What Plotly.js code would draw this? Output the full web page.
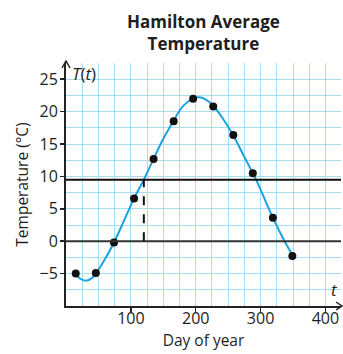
<!DOCTYPE html>
<html>
<head>
<meta charset="utf-8">
<script src="https://cdn.plot.ly/plotly-3.0.1.min.js"></script>
<style>html,body{margin:0;padding:0;background:#fff;}#chart{width:343px;height:354px;}</style>
</head>
<body>
<div id="chart"></div>
<script>
// Monthly mean temperatures (mid-month day of year)
var days = [15, 46, 74, 105, 135, 166, 196, 227, 258, 288, 319, 349];
var temps = [-5.0, -4.9, -0.2, 6.6, 12.7, 18.5, 22.0, 20.8, 16.4, 10.5, 3.6, -2.3];

// Curve of best fit
var fitDays = [15, 22, 31, 40, 46, 60, 74, 90, 105, 120, 135, 150, 166, 180, 196, 205, 215, 227, 240, 258, 275, 293, 320, 337, 350];
var fitTemps = [-5.0, -5.8, -6.1, -5.7, -5.0, -2.8, -0.2, 3.3, 6.6, 9.5, 12.7, 15.8, 18.6, 20.8, 22.0, 22.2, 21.9, 20.9, 19.2, 16.3, 13.0, 9.5, 3.4, 0.0, -2.3];

// Reference lines
var thresholdTemp = 9.5;
var crossingDay = 120;

var xTicks = [100, 200, 300, 400];
var yTicks = [-5, 0, 5, 10, 15, 20, 25];

var titleText = '<b>Hamilton Average<br>Temperature</b>';

var gridCol = '#a9dcf2';
var font = 'Open Sans, Noto Sans, sans-serif';
var txtCol = '#1e1e1e';

var traces = [
  {x: fitDays, y: fitTemps, mode: 'lines', type: 'scatter',
   line: {color: '#1ba3df', width: 2, shape: 'spline', smoothing: 1}, hoverinfo: 'skip'},
  {x: days, y: temps, mode: 'markers', type: 'scatter',
   marker: {color: '#111', size: 8}}
];

var layout = {
  width: 343, height: 354,
  margin: {l: 66, r: 2, t: 63, b: 48},
  showlegend: false,
  paper_bgcolor: '#fff', plot_bgcolor: '#fff',
  font: {family: font, size: 15, color: txtCol},
  xaxis: {
    range: [0, 424], tickmode: 'array', tickvals: xTicks,
    showgrid: true, gridcolor: gridCol, gridwidth: 1,
    minor: {tickmode: 'linear', tick0: 0, dtick: 25, showgrid: true, gridcolor: gridCol, gridwidth: 1},
    showline: true, linecolor: '#222', linewidth: 2,
    ticks: 'outside', ticklen: 4, tickwidth: 1.5, tickcolor: '#222',
    ticklabelstandoff: -7,
    zeroline: false,
    tickfont: {family: font, size: 16, color: txtCol},
    title: {text: 'Day of year', font: {family: font, size: 15.5, color: txtCol}, standoff: 4}
  },
  yaxis: {
    range: [-10, 27.5], tickmode: 'array', tickvals: yTicks,
    showgrid: true, gridcolor: gridCol, gridwidth: 1,
    minor: {tickmode: 'linear', tick0: -10, dtick: 2.5, showgrid: true, gridcolor: gridCol, gridwidth: 1},
    showline: true, linecolor: '#222', linewidth: 2,
    ticks: 'outside', ticklen: 4, tickwidth: 1.5, tickcolor: '#222',
    ticklabelstandoff: -1,
    zeroline: false,
    tickfont: {family: font, size: 16, color: txtCol},
    title: {text: 'Temperature (°C)', font: {family: font, size: 15.5, color: txtCol}, standoff: 7}
  },
  shapes: [
    {type: 'line', xref: 'paper', x0: 0, x1: 1, yref: 'y', y0: 0, y1: 0, line: {color: '#333', width: 2}},
    {type: 'line', xref: 'paper', x0: 0, x1: 1, yref: 'y', y0: thresholdTemp, y1: thresholdTemp, line: {color: '#111', width: 2}},
    {type: 'line', xref: 'x', x0: crossingDay, x1: crossingDay, yref: 'y', y0: 0, y1: thresholdTemp, line: {color: '#111', width: 2, dash: 'dash'}},
    // axis arrowheads
    {type: 'path', xref: 'paper', yref: 'paper', xsizemode: 'pixel', ysizemode: 'pixel', xanchor: 0, yanchor: 1,
     path: 'M -4,-5 L 0,2 L 4,-5 M 0,2 L 0,0', line: {color: '#222', width: 1.5}},
    {type: 'path', xref: 'paper', yref: 'paper', xsizemode: 'pixel', ysizemode: 'pixel', xanchor: 1, yanchor: 0,
     path: 'M -5,4 L 1,0 L -5,-4', line: {color: '#222', width: 1.5}}
  ],
  annotations: [
    {xref: 'paper', yref: 'paper', x: 0.5, y: 1, xanchor: 'center', yanchor: 'bottom', yshift: 6,
     text: titleText, showarrow: false, font: {family: font, size: 17, color: txtCol}},
    {xref: 'paper', yref: 'paper', x: 0, y: 1, xanchor: 'left', yanchor: 'top', xshift: 4, yshift: 3,
     text: '<i>T</i>(<i>t</i>)', showarrow: false, font: {family: font, size: 17, color: txtCol}},
    {xref: 'paper', yref: 'paper', x: 1, y: 0, xanchor: 'right', yanchor: 'bottom', xshift: -1, yshift: 3,
     text: '<i>t</i>', showarrow: false, font: {family: font, size: 17, color: txtCol}}
  ]
};

Plotly.newPlot('chart', traces, layout, {displayModeBar: false, staticPlot: true});
</script>
</body>
</html>
